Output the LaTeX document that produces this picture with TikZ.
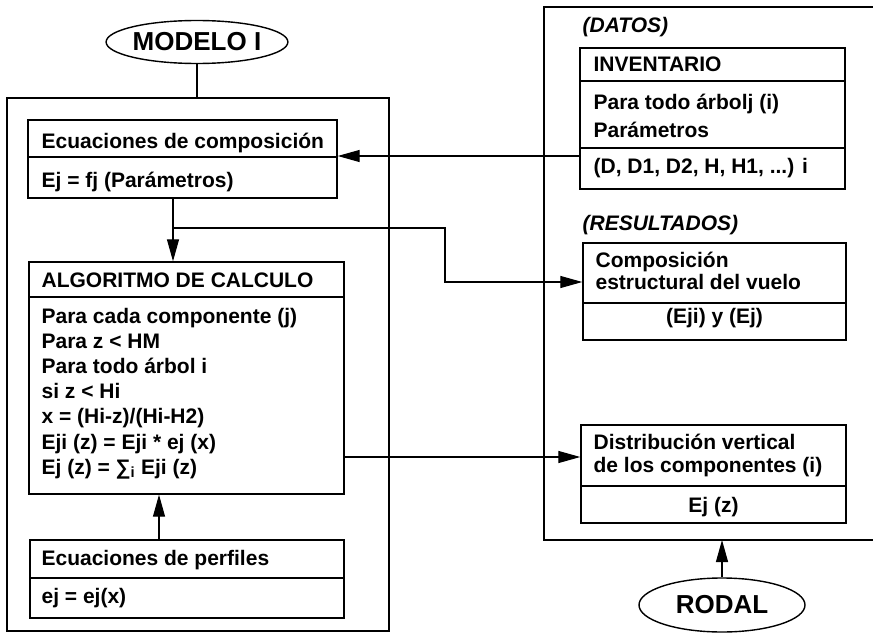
\documentclass[tikz,border=0pt]{standalone}
\usepackage{fontspec}
\setmainfont{Liberation Sans}
\usetikzlibrary{arrows.meta,shapes.geometric}

\begin{document}
\begin{tikzpicture}[x=1pt, y=-1pt, line width=1.2pt,
    txt/.style={anchor=base west, inner sep=0, font=\fontsize{21}{22}\selectfont\bfseries},
    ctr/.style={txt, anchor=base},
    etiq/.style={txt, font=\fontsize{21}{22}\selectfont\bfseries\itshape},
    caja/.style={draw, line width=1.4pt, inner sep=0},
    elip/.style={draw, ellipse, line width=1.4pt, inner sep=0, font=\fontsize{26}{28}\selectfont\bfseries},
    flecha/.style={-{Triangle[length=22pt,width=12pt]}}]
  \useasboundingbox (0,0) rectangle (873,634);
  % modelo
  \node[caja, minimum width=382pt, minimum height=533pt] (modelo) at (198,364.5) {};
  \node[elip, minimum width=165pt, minimum height=43pt] (mod) at (197,42) {MODELO I};
  \draw (mod.south) -- (mod.south |- modelo.north);
  \node[caja, minimum width=309pt, minimum height=78pt] (ecomp) at (182.5,159) {};
  \node[txt] (ecomp1) at (41,148) {Ecuaciones de composición};
  \draw (ecomp.west |- 0,157) -- (ecomp.east |- 0,157);
  \node[txt] (ecomp2) at (41,187) {Ej = fj (Parámetros)};
  \node[caja, minimum width=315pt, minimum height=232pt] (algo) at (186.5,378) {};
  \node[txt] (algo0) at (41,287) {ALGORITMO DE CALCULO};
  \draw (algo.west |- 0,297) -- (algo.east |- 0,297);
  \node[txt] (algo1) at (41,323) {Para cada componente (j)};
  \node[txt] (algo2) at (41,348) {Para z < HM};
  \node[txt] (algo3) at (41,373) {Para todo árbol i};
  \node[txt] (algo4) at (41,398) {si z < Hi};
  \node[txt] (algo5) at (41,423) {x = (Hi-z)/(Hi-H2)};
  \node[txt] (algo6) at (41,449) {Eji (z) = Eji * ej (x)};
  \node[txt] (algo7) at (41,474) {Ej (z) = ∑\textsubscript{i} Eji (z)};
  \node[caja, minimum width=314pt, minimum height=78pt] (perf) at (187,579) {};
  \node[txt] (perf1) at (41,565) {Ecuaciones de perfiles};
  \draw (perf.west |- 0,578) -- (perf.east |- 0,578);
  \node[txt] (perf2) at (41,603) {ej = ej(x)};
  % datos y resultados
  \draw (873,7) -- (544,7) -- (544,540) -- (873,540);
  \coordinate (rbot) at (722,540);
  \node[etiq] (datos) at (582,33) {(DATOS)};
  \node[caja, minimum width=265pt, minimum height=141pt] (inv) at (712.5,118.5) {};
  \node[txt] (inv1) at (593,71) {INVENTARIO};
  \draw (inv.west |- 0,81) -- (inv.east |- 0,81);
  \node[txt] (inv2) at (593,110) {Para todo árbolj (i)};
  \node[txt] (inv3) at (593,137) {Parámetros};
  \draw (inv.west |- 0,148) -- (inv.east |- 0,148);
  \node[txt] (inv4) at (593,173) {(D, D1, D2, H, H1, ...) i};
  \node[etiq] (resul) at (582,230) {(RESULTADOS)};
  \node[caja, minimum width=263pt, minimum height=97pt] (res) at (714.5,291.5) {};
  \node[txt] (res1) at (595,267) {Composición};
  \node[txt] (res2) at (595,289) {estructural del vuelo};
  \draw (res.west |- 0,303) -- (res.east |- 0,303);
  \node[ctr] (res3) at (714.5,323) {(Eji) y (Ej)};
  \node[caja, minimum width=265pt, minimum height=98pt] (dist) at (713.5,474) {};
  \node[txt] (dist1) at (593,449) {Distribución vertical};
  \node[txt] (dist2) at (593,472) {de los componentes (i)};
  \draw (dist.west |- 0,486) -- (dist.east |- 0,486);
  \node[ctr] (dist3) at (713.5,512) {Ej (z)};
  \node[elip, minimum width=166pt, minimum height=54pt] (rodal) at (722,605) {RODAL};
  % flechas
  \draw[flecha] (inv.west |- 0,156) -- (ecomp.east |- 0,156);
  \draw[flecha] (ecomp.south -| 173,0) -- (algo.north -| 173,0);
  \coordinate (rama) at (173,228);
  \draw[flecha] (rama) -| (445,282) -- (res.west |- 0,282);
  \draw[flecha] (algo.east |- 0,457) -- (dist.west |- 0,457);
  \draw[flecha] (perf.north -| 159,0) -- (algo.south -| 159,0);
  \draw[flecha] (rodal.north) -- (rbot);
\end{tikzpicture}
\end{document}
